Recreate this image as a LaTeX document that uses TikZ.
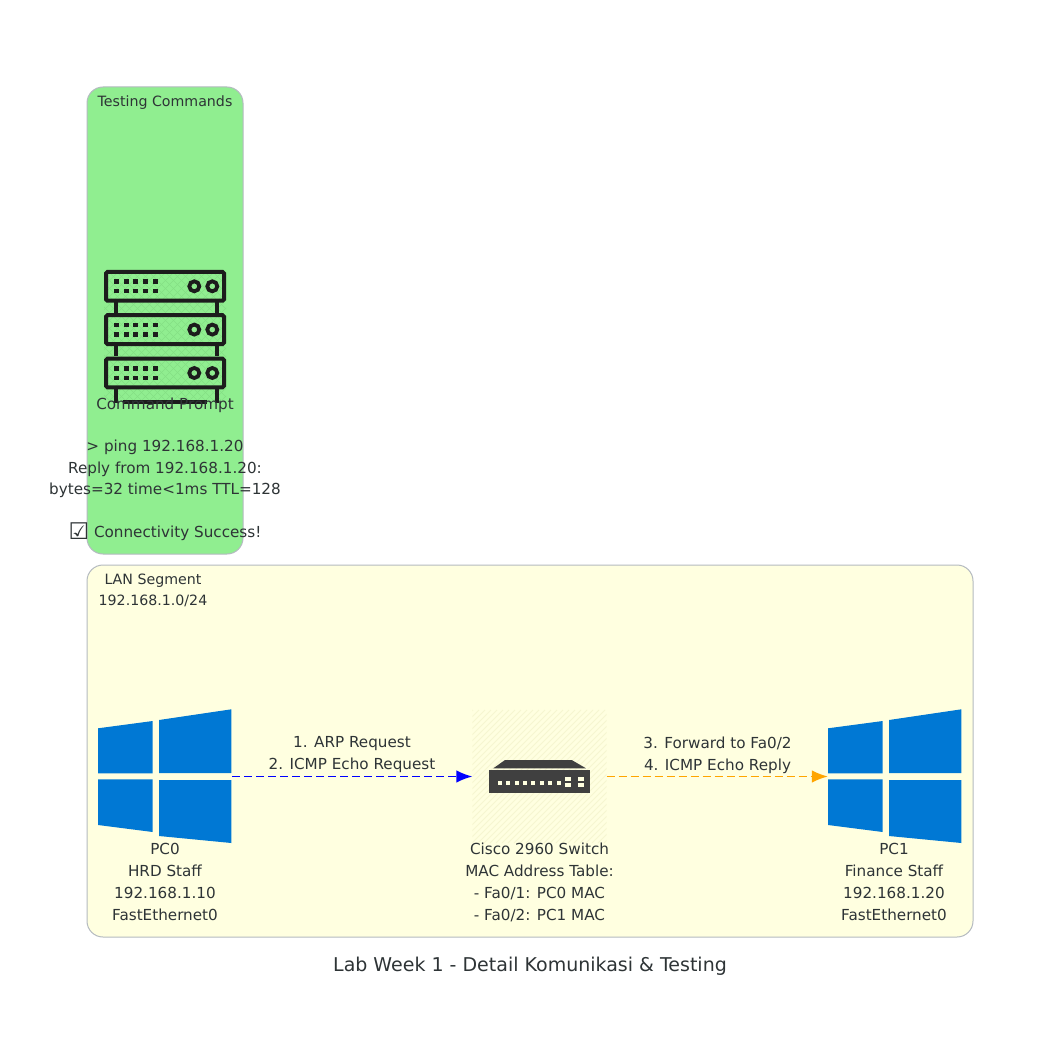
\documentclass[tikz,border=0pt]{standalone}
\usepackage{fontspec}
\setmainfont{DejaVu Sans}
\usetikzlibrary{arrows.meta,positioning}
\definecolor{boxline}{HTML}{B4BAC0}
\definecolor{txtcol}{HTML}{2E3436}
\definecolor{winblue}{HTML}{0078D4}
\definecolor{swgrey}{HTML}{404040}
\definecolor{rackblack}{HTML}{1C1C1C}
\definecolor{lanfill}{HTML}{FFFFE0}
\definecolor{cmdfill}{HTML}{90EE90}
\definecolor{hatchlan}{HTML}{F6F6D0}
\definecolor{hatchcmd}{HTML}{84E084}
\definecolor{replyorange}{HTML}{FFA500}
\tikzset{
  segbox/.style={draw=boxline,line width=1pt,rounded corners=16pt},
  lbl/.style={font=\fontsize{15.2}{21.3}\selectfont,text=txtcol,align=center,inner sep=0pt},
  devlbl/.style={lbl,font=\fontsize{15.2}{22}\selectfont},
  seglbl/.style={lbl,font=\fontsize{14.2}{21.3}\selectfont},
  iconbox/.style={minimum width=134pt,minimum height=133pt,inner sep=0pt},
  flow/.style={line width=1.4pt,dash pattern=on 8pt off 4pt,-{Latex[length=16pt,width=12.5pt]}},
  pane/.style={fill=winblue},
  rackline/.style={rackblack,line width=4pt},
  rackunit/.pic={
    \draw[rackline,rounded corners=1.5pt] (-59,-14.4) rectangle (59,14.4);
    \foreach \px in {-49,-39,-29.3,-19.3,-9.3}
      \foreach \py in {-4.8,4.8}
        \fill[rackblack] (\px-2.5,\py-2.3) rectangle (\px+2.5,\py+2.3);
    \draw[rackblack,line width=3.8pt] (29.3,0) circle (5pt);
    \draw[rackblack,line width=3.8pt] (47.3,0) circle (5pt);
  },
  winlogo/.pic={
    \fill[pane] (-67,-48.2) -- (-12.3,-55.5) -- (-12.3,-3.2) -- (-67,-3.2) -- cycle;
    \fill[pane] (-6,-56.5) -- (66.3,-67.2) -- (66.3,-3.5) -- (-6,-3.5) -- cycle;
    \fill[pane] (-67,2.8) -- (-12.3,2.8) -- (-12.3,55.5) -- (-67,48.5) -- cycle;
    \fill[pane] (-6,3.5) -- (66.3,3.5) -- (66.3,66.5) -- (-6,59.5) -- cycle;
  }
}
\begin{document}
\begin{tikzpicture}[x=1pt,y=-1pt]
  \useasboundingbox (0,0) rectangle (1060,1062);
  \fill[white] (0,0) rectangle (1060,1062);
  % clusters
  \draw[segbox,fill=lanfill] (87,565) rectangle (973,937);
  \draw[segbox,fill=cmdfill] (87,87) rectangle (243,554);
  \node[seglbl] (testtitle) at (165,102.5) {Testing Commands};
  \node[seglbl] (lantitle) at (153,590.5) {LAN Segment\\192.168.1.0/24};
  % icons
  \node[iconbox] (cmd) at (165,336.5) {};
  \node[iconbox] (pc0) at (165,776.5) {};
  \node[iconbox] (sw) at (539.5,776.5) {};
  \node[iconbox] (pc1) at (895,776.5) {};
  \begin{scope}
    \clip (104,270) rectangle (226,403);
    \foreach \d in {0,8,...,260} {
      \draw[hatchcmd,line width=.5pt] (104+\d-133,403) -- (104+\d,270);
      \draw[hatchcmd,line width=.5pt] (104+\d-133,270) -- (104+\d,403);
    }
  \end{scope}
  \draw[rackline] (116,302) -- (116,313) (217,302) -- (217,313);
  \draw[rackline] (116,345) -- (116,356) (217,345) -- (217,356);
  \draw[rackline] (116,388) -- (116,403) (217,388) -- (217,403);
  \draw[rackline] (123,401.5) -- (207,401.5);
  \pic at (165,286.3) {rackunit};
  \pic at (165,329.6) {rackunit};
  \pic at (165,373) {rackunit};
  \pic at (pc0) {winlogo};
  \pic at (pc1) {winlogo};
  \begin{scope}
    \clip (sw.north west) rectangle (sw.south east);
    \foreach \d in {0,6,...,270}
      \draw[hatchlan,line width=.8pt] (473+\d-133,843) -- (473+\d,710);
  \end{scope}
  \fill[swgrey] (493.3,768.3) -- (505,760) -- (571.7,760) -- (586,768.3) -- cycle;
  \fill[swgrey] (489.3,770) rectangle (590,793.3);
  \foreach \px in {500,508.3,516.7,525,533.3,541.7,550.3,558.7}
    \fill[lanfill] (\px-2,781) rectangle (\px+2,785);
  \foreach \px in {568.3,580.7}
    \foreach \py in {779,785}
      \fill[lanfill] (\px-3,\py-2) rectangle (\px+3,\py+2);
  % labels
  \node[lbl,anchor=north] (cmdtext) at (165,397.5) {Command Prompt\\[21.3pt]> ping 192.168.1.20\\Reply from 192.168.1.20:\\bytes=32 time<1ms TTL=128\\[21.3pt]\raisebox{-2.5pt}{\fontsize{23}{21.3}\selectfont ☑} Connectivity Success!};
  \node[devlbl,below=0pt of pc0] (pc0text) {PC0\\HRD Staff\\192.168.1.10\\FastEthernet0};
  \node[devlbl,below=0pt of sw] (swtext) {Cisco 2960 Switch\\MAC Address Table:\\- Fa0/1: PC0 MAC\\- Fa0/2: PC1 MAC};
  \node[devlbl,below=0pt of pc1,xshift=-1pt] (pc1text) {PC1\\Finance Staff\\192.168.1.20\\FastEthernet0};
  % links
  \draw[flow,blue] (pc0.east) -- (sw.west);
  \draw[flow,replyorange] (sw.east) -- (pc1.west);
  \node[devlbl] (arplbl) at (352,755) {1. ARP Request\\2. ICMP Echo Request};
  \node[devlbl] (fwdlbl) at (717.5,755) {3. Forward to Fa0/2\\4. ICMP Echo Reply};
  \node[lbl,font=\fontsize{19}{23}\selectfont] (caption) at (530,966) {Lab Week 1 - Detail Komunikasi \& Testing};
\end{tikzpicture}
\end{document}
